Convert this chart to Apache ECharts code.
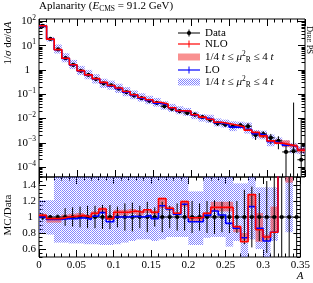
<!DOCTYPE html>
<html><head><meta charset="utf-8">
<script src="https://cdn.jsdelivr.net/npm/echarts@6/dist/echarts.min.js"></script>
<style>html,body{margin:0;padding:0;background:#fff}#c{width:313px;height:283px}</style>
</head><body><div id="c"></div>
<script>
// ---------------- data ----------------
const binEdges = [0,0.01,0.02,0.03,0.04,0.05,0.06,0.07,0.08,0.09,0.1,0.11,0.12,0.13,0.14,0.15,0.16,0.17,0.18,0.19,0.2,0.21,0.22,0.23,0.24,0.25,0.26,0.27,0.28,0.29,0.3,0.31,0.32,0.33,0.34,0.35];
// measured 1/sigma dsigma/dA
const dataVals = [65, 19, 7.0, 3.05, 1.62, 0.92, 0.63, 0.42, 0.28, 0.235,
  0.17, 0.122, 0.089, 0.069, 0.054, 0.044, 0.032, 0.025, 0.020, 0.017,
  0.0145, 0.0115, 0.0089, 0.0063, 0.0056, 0.0048, 0.0052, 0.0048, 0.0021, 0.0023,
  0.0016, 0.0012, 0.00042, 0.00045, 0.0002];
// relative data uncertainty
const dataRelErr = [0.04, 0.02, 0.03, 0.11, 0.12, 0.13, 0.14, 0.14, 0.15, 0.15,
  0.13, 0.17, 0.18, 0.14, 0.19, 0.12, 0.19, 0.14, 0.17, 0.17,
  0.2, 0.17, 0.2, 0.21, 0.19, 0.2, 0.2, 0.34, 0.38, 0.3,
  0.45, 0.55, 0.95, 100, 50];
// MC / Data ratios
const nloRatio = [1.02, 0.98, 0.98, 1.0, 1.01, 1.02, 1.0, 1.047, 1.10, 0.98,
  1.06, 1.06, 1.076, 1.06, 1.09, 1.06, 1.23, 1.11, 1.047, 1.19,
  0.99, 0.99, 1.047, 1.12, 1.12, 1.12, 0.88, 0.69, 1.28, 0.84,
  0.75, 0.81, 2.0, 1.6, 2.5];
const nloBandLo = [0.99, 0.93, 0.93, 0.98, 0.98, 0.99, 0.98, 1.02, 1.05, 0.96,
  1.02, 1.02, 1.04, 1.02, 1.05, 1.03, 1.11, 1.08, 1.02, 1.13,
  0.95, 0.95, 1.0, 1.07, 1.07, 1.07, 0.81, 0.69, 1.13, 0.69,
  0.70, 0.80, 1.6, 1.43, 2.0];
const nloBandHi = [1.04, 1.0, 1.0, 1.03, 1.04, 1.05, 1.03, 1.07, 1.12, 1.01,
  1.09, 1.09, 1.1, 1.08, 1.1, 1.08, 1.24, 1.13, 1.06, 1.21,
  1.0, 1.0, 1.06, 1.19, 1.19, 1.19, 0.89, 0.80, 1.28, 1.05,
  0.78, 1.13, 3.0, 2.0, 3.0];
const loRatio = [1.0, 0.97, 0.97, 0.98, 0.98, 0.99, 0.97, 1.01, 1.055, 0.94,
  1.0, 1.0, 1.01, 1.0, 1.02, 0.98, 1.14, 1.10, 1.035, 1.16,
  0.94, 0.94, 1.02, 1.075, 1.025, 0.92, 0.86, 0.74, 1.13, 0.86,
  0.70, 0.81, 1.9, 1.6, 2.5];
const loBandLo = [0.80, 0.78, 0.68, 0.68, 0.67, 0.67, 0.66, 0.66, 0.65, 0.65,
  0.66, 0.68, 0.70, 0.72, 0.72, 0.70, 0.72, 0.75, 0.75, 0.75,
  0.65, 0.65, 0.74, 0.75, 0.75, 0.63, 0.70, 0.50, 0.72, 0.60,
  0.45, 0.70, 1.55, 0.81, 1.7];
const loBandHi = [1.21, 1.21, 1.6, 1.6, 1.6, 1.6, 1.6, 1.6, 1.55, 1.55,
  1.6, 1.6, 1.6, 1.6, 1.6, 1.6, 1.6, 1.6, 1.6, 1.6,
  1.32, 1.32, 1.6, 1.6, 1.6, 1.6, 1.42, 1.42, 1.6, 1.37,
  1.37, 1.37, 3.0, 2.2, 3.5];
// ticks
const xTickVals = [0, 0.05, 0.1, 0.15, 0.2, 0.25, 0.3, 0.35];
const xTickLabels = ['0', '0.05', '0.1', '0.15', '0.2', '0.25', '0.3', '0.35'];
const yMajorVals = [1e-4, 1e-3, 1e-2, 1e-1, 1, 10, 100];
const yMinorMult = [2, 3, 4, 5, 6, 7, 8, 9];
const rTickVals = [0.6, 0.8, 1.0, 1.2, 1.4];
const rTickLabels = ['0.6', '0.8', '1', '1.2', '1.4'];
const rMinorVals = [0.5, 0.55, 0.65, 0.7, 0.75, 0.85, 0.9, 0.95, 1.05, 1.1, 1.15, 1.25, 1.3, 1.35, 1.45, 1.5];

// ---------------- layout ----------------
const FONT = 'Liberation Serif';
const FS = 11;
const yMainMin = Math.pow(10, -4.41), yMainMax = Math.pow(10, 2.1);
const rMin = 0.5, rMax = 1.5;
const nB = dataVals.length;

const yMinorVals = [];
for (let e = -5; e <= 2; e++) for (const m of yMinorMult) {
  const v = m * Math.pow(10, e);
  if (v > yMainMin && v < yMainMax) yMinorVals.push(v);
}

// hatch pattern
const pc = document.createElement('canvas'); pc.width = 2; pc.height = 2;
const pg = pc.getContext('2d');
pg.fillStyle = 'rgba(85,85,255,0.72)'; pg.fillRect(0, 0, 1, 1); pg.fillRect(1, 1, 1, 1);
const hatch = { image: pc, repeat: 'repeat' };
const pink = 'rgba(245,70,70,0.6)';

// derived tables
const nloAbs = dataVals.map((d, i) => d * nloRatio[i]);
const loAbs = dataVals.map((d, i) => d * loRatio[i]);
function stepPts(vals) {
  const p = vals.map((v, i) => [binEdges[i], v]);
  p.push([binEdges[nB], vals[nB - 1]]);
  return p;
}
function bands(lo, hi, scale) {
  return lo.map((l, i) => [binEdges[i], binEdges[i + 1], l * scale[i], hi[i] * scale[i]]);
}
const ones = dataVals.map(() => 1);

function bandRender(fill, minV, maxV) {
  return function (params, api) {
    const x0 = api.value(0), x1 = api.value(1);
    const l = Math.max(api.value(2), minV), h = Math.min(api.value(3), maxV);
    if (!(h > l)) return { type: 'group', children: [] };
    const a = api.coord([x0, h]), b = api.coord([x1, l]);
    return { type: 'rect', shape: { x: a[0], y: a[1], width: b[0] - a[0], height: b[1] - a[1] }, style: { fill: fill } };
  };
}
function dataRender(minV, maxV) {
  return function (params, api) {
    const xc = api.value(0), x0 = api.value(1), x1 = api.value(2), v = api.value(3);
    const lo = Math.max(api.value(4), minV), hi = Math.min(api.value(5), maxV);
    const c = api.coord([xc, v]), pl = api.coord([xc, lo]), ph = api.coord([xc, hi]);
    const a = api.coord([x0, v]), b = api.coord([x1, v]);
    return { type: 'group', children: [
      { type: 'line', shape: { x1: a[0], y1: a[1], x2: b[0], y2: b[1] }, style: { stroke: '#000', lineWidth: 1 } },
      { type: 'line', shape: { x1: pl[0], y1: pl[1], x2: ph[0], y2: ph[1] }, style: { stroke: '#000', lineWidth: 1 } },
      { type: 'circle', shape: { cx: c[0], cy: c[1], r: 2.1 }, style: { fill: '#000' } }
    ] };
  };
}
const mainData = dataVals.map((d, i) => [(binEdges[i] + binEdges[i + 1]) / 2, binEdges[i], binEdges[i + 1], d, d * (1 - dataRelErr[i]), d * (1 + dataRelErr[i])]);
const ratioData = dataVals.map((d, i) => [(binEdges[i] + binEdges[i + 1]) / 2, binEdges[i], binEdges[i + 1], 1, 1 - dataRelErr[i], 1 + dataRelErr[i]]);

// ---------------- axes ----------------
const tickStyle = { color: '#000', width: 1 };
function xAx(grid, pos, showLabel) {
  return {
    type: 'value', gridIndex: grid, position: pos, min: 0, max: 0.35, interval: 0.05,
    axisLine: { show: false }, splitLine: { show: false },
    axisTick: { show: true, inside: true, length: 7, lineStyle: tickStyle },
    minorTick: { show: true, splitNumber: 5, length: 3.5, lineStyle: tickStyle },
    axisLabel: {
      show: showLabel, color: '#000', fontFamily: FONT, fontSize: FS, margin: 3,
      showMinLabel: true, showMaxLabel: true,
      formatter: v => { const k = xTickVals.findIndex(t => Math.abs(t - v) < 1e-9); return k >= 0 ? xTickLabels[k] : ''; }
    }
  };
}
function yLog(pos, vals, len, showLabel) {
  return {
    type: 'log', logBase: 10, gridIndex: 0, position: pos, min: yMainMin, max: yMainMax,
    axisLine: { show: false }, splitLine: { show: false }, minorTick: { show: false },
    axisTick: { show: true, inside: true, length: len, customValues: vals, lineStyle: tickStyle },
    axisLabel: {
      show: showLabel, customValues: vals, color: '#000', fontFamily: FONT, fontSize: FS, margin: 3,
      formatter: v => {
        const e = Math.round(Math.log10(v));
        if (e === 0) return '{one|1}';
        return '{b|10}{s|' + (e < 0 ? '\u2212' + (-e) : e) + '}';
      },
      rich: {
        b: { fontFamily: FONT, fontSize: FS, color: '#000', lineHeight: 15 },
        s: { fontFamily: FONT, fontSize: 7.5, color: '#000', verticalAlign: 'top', lineHeight: 8 },
        one: { fontFamily: FONT, fontSize: FS, color: '#000', padding: [0, 6, 0, 0] }
      }
    }
  };
}
function yRatio(pos, vals, len, showLabel) {
  return {
    type: 'value', gridIndex: 1, position: pos, min: rMin, max: rMax,
    axisLine: { show: false }, splitLine: { show: false }, minorTick: { show: false },
    axisTick: { show: true, inside: true, length: len, customValues: vals, lineStyle: tickStyle },
    axisLabel: {
      show: showLabel, customValues: vals, color: '#000', fontFamily: FONT, fontSize: FS, margin: 3,
      formatter: v => { const k = rTickVals.findIndex(t => Math.abs(t - v) < 1e-9); return k < 0 ? '' : (rTickLabels[k] === '1' ? '{one|1}' : rTickLabels[k]); },
      rich: { one: { fontFamily: FONT, fontSize: FS, color: '#000', padding: [0, 3, 0, 0] } }
    }
  };
}

const xAxes = [xAx(0, 'bottom', false), xAx(0, 'top', false), xAx(1, 'bottom', true), xAx(1, 'top', false)];
const yAxes = [
  yLog('left', yMajorVals, 7, true), yLog('left', yMinorVals, 3.5, false),
  yLog('right', yMajorVals, 7, false), yLog('right', yMinorVals, 3.5, false),
  yRatio('left', rTickVals, 7, true), yRatio('left', rMinorVals, 3.5, false),
  yRatio('right', rTickVals, 7, false), yRatio('right', rMinorVals, 3.5, false)
];

// ---------------- series ----------------
const series = [
  { type: 'custom', name: 'LO band', xAxisIndex: 0, yAxisIndex: 0, clip: true, renderItem: bandRender(hatch, yMainMin * 0.5, yMainMax * 2), data: bands(loBandLo, loBandHi, dataVals) },
  { type: 'custom', name: 'NLO band', xAxisIndex: 0, yAxisIndex: 0, clip: true, renderItem: bandRender(pink, yMainMin * 0.5, yMainMax * 2), data: bands(nloBandLo, nloBandHi, dataVals) },
  { type: 'line', name: 'LO', xAxisIndex: 0, yAxisIndex: 0, step: 'end', symbol: 'none', clip: true, lineStyle: { color: '#0000ff', width: 1.6 }, data: stepPts(loAbs) },
  { type: 'line', name: 'NLO', xAxisIndex: 0, yAxisIndex: 0, step: 'end', symbol: 'none', clip: true, lineStyle: { color: '#ff0000', width: 1.6 }, data: stepPts(nloAbs) },
  { type: 'custom', name: 'Data', xAxisIndex: 0, yAxisIndex: 0, clip: true, renderItem: dataRender(yMainMin * 0.5, yMainMax * 2), data: mainData },

  { type: 'custom', xAxisIndex: 2, yAxisIndex: 4, clip: true, renderItem: bandRender(hatch, rMin - 0.1, rMax + 0.1), data: bands(loBandLo, loBandHi, ones) },
  { type: 'custom', xAxisIndex: 2, yAxisIndex: 4, clip: true, renderItem: bandRender(pink, rMin - 0.1, rMax + 0.1), data: bands(nloBandLo, nloBandHi, ones) },
  { type: 'line', xAxisIndex: 2, yAxisIndex: 4, step: 'end', symbol: 'none', clip: true, lineStyle: { color: '#0000ff', width: 1.6 }, data: stepPts(loRatio) },
  { type: 'line', xAxisIndex: 2, yAxisIndex: 4, step: 'end', symbol: 'none', clip: true, lineStyle: { color: '#ff0000', width: 1.6 }, data: stepPts(nloRatio) },
  { type: 'custom', xAxisIndex: 2, yAxisIndex: 4, clip: true, renderItem: dataRender(rMin - 0.05, rMax + 0.05), data: ratioData }
];

// ---------------- legend & texts ----------------
const richT = {
  n: { fontFamily: FONT, fontSize: FS, color: '#000', lineHeight: 14 },
  i: { fontFamily: FONT, fontSize: FS, fontStyle: 'italic', color: '#000', lineHeight: 14 },
  sub: { fontFamily: FONT, fontSize: 7.5, color: '#000', verticalAlign: 'bottom', lineHeight: 8 },
  sup: { fontFamily: FONT, fontSize: 7.5, color: '#000', verticalAlign: 'top', lineHeight: 8 },
  sc: { fontFamily: FONT, fontSize: 6.5, color: '#000', lineHeight: 10 },
  d: { fontFamily: FONT, fontSize: 8.5, color: '#000', lineHeight: 10 }
};
const legX0 = 178, legX1 = 200, legXc = 189, legTx = 205;
const legRows = [33, 44, 57, 70, 82];
const muText = '{n|1/4 }{i|t}{n| \u2264 }{i|\u03bc}{sup|2}{sub|R}{n| \u2264 4 }{i|t}';
const graphic = [
  { type: 'text', left: 39, top: 1, style: { text: '{n|Aplanarity (}{i|E}{sub|CMS}{n| = 91.2 GeV)}', rich: richT } },
  { type: 'text', x: 8, y: 43, rotation: Math.PI / 2, style: { text: '{n|1/}{i|\u03c3}{n| d}{i|\u03c3}{n|/d}{i|A}', rich: richT, align: 'center', verticalAlign: 'middle' } },
  { type: 'text', x: 8, y: 215, rotation: Math.PI / 2, style: { text: '{n|MC/Data}', rich: richT, align: 'center', verticalAlign: 'middle' } },
  { type: 'text', x: 300, y: 276, style: { text: '{i|A}', rich: richT, align: 'center', verticalAlign: 'middle' } },
  { type: 'text', x: 309, y: 40, rotation: -Math.PI / 2, style: { text: '{d|D}{sc|IRE}{d| PS}', rich: richT, align: 'center', verticalAlign: 'middle' } },
  // Data
  { type: 'line', shape: { x1: legX0, y1: legRows[0], x2: legX1, y2: legRows[0] }, style: { stroke: '#000', lineWidth: 1 } },
  { type: 'line', shape: { x1: legXc, y1: legRows[0] - 3.5, x2: legXc, y2: legRows[0] + 3.5 }, style: { stroke: '#000', lineWidth: 1 } },
  { type: 'circle', shape: { cx: legXc, cy: legRows[0], r: 2.1 }, style: { fill: '#000' } },
  { type: 'text', x: legTx, y: legRows[0], style: { text: '{n|Data}', rich: richT, verticalAlign: 'middle' } },
  // NLO
  { type: 'line', shape: { x1: legX0, y1: legRows[1], x2: legX1, y2: legRows[1] }, style: { stroke: '#ff0000', lineWidth: 1.2 } },
  { type: 'line', shape: { x1: legXc, y1: legRows[1] - 3.5, x2: legXc, y2: legRows[1] + 3.5 }, style: { stroke: '#ff0000', lineWidth: 1 } },
  { type: 'text', x: legTx, y: legRows[1], style: { text: '{n|NLO}', rich: richT, verticalAlign: 'middle' } },
  // NLO band
  { type: 'rect', shape: { x: legX0, y: legRows[2] - 3.5, width: legX1 - legX0, height: 7 }, style: { fill: pink } },
  { type: 'text', x: legTx, y: legRows[2], style: { text: muText, rich: richT, verticalAlign: 'middle' } },
  // LO
  { type: 'line', shape: { x1: legX0, y1: legRows[3], x2: legX1, y2: legRows[3] }, style: { stroke: '#0000ff', lineWidth: 1.2 } },
  { type: 'line', shape: { x1: legXc, y1: legRows[3] - 3.5, x2: legXc, y2: legRows[3] + 3.5 }, style: { stroke: '#0000ff', lineWidth: 1 } },
  { type: 'text', x: legTx, y: legRows[3], style: { text: '{n|LO}', rich: richT, verticalAlign: 'middle' } },
  // LO band
  { type: 'rect', shape: { x: legX0, y: legRows[4] - 3.5, width: legX1 - legX0, height: 7 }, style: { fill: hatch } },
  { type: 'text', x: legTx, y: legRows[4], style: { text: muText, rich: richT, verticalAlign: 'middle' } }
];

const chart = echarts.init(document.getElementById('c'), null, { renderer: 'canvas' });
chart.setOption({
  animation: false,
  backgroundColor: '#fff',
  grid: [
    { left: 39, top: 19, width: 266, height: 158, show: true, borderColor: '#000', borderWidth: 1, backgroundColor: 'transparent' },
    { left: 39, top: 177, width: 266, height: 80, show: true, borderColor: '#000', borderWidth: 1, backgroundColor: 'transparent' }
  ],
  xAxis: xAxes,
  yAxis: yAxes,
  series: series,
  graphic: graphic
});
</script>
</body></html>
